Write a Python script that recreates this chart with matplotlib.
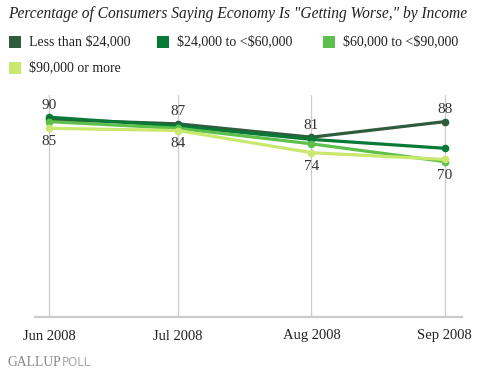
import matplotlib
matplotlib.use('Agg')
import matplotlib.pyplot as plt
from matplotlib.patches import Rectangle
from datetime import datetime, timedelta

plt.rcParams['text.parse_math'] = False

months = ['Jun 2008', 'Jul 2008', 'Aug 2008', 'Sep 2008']
dates = [datetime(2008, 6, 1), datetime(2008, 7, 1), datetime(2008, 8, 1), datetime(2008, 9, 1)]

less_24k = [89, 87, 81, 88]
from_24k_60k = [90, 86, 80, 76]
from_60k_90k = [88, 85, 78, 70]
over_90k = [85, 84, 74, 71]

series_names = ['Less than $24,000', '$24,000 to <$60,000', '$60,000 to <$90,000', '$90,000 or more']
colors = ['#2E5C3D', '#087A36', '#5DBF4C', '#C8E86E']

# labels shown on the chart (top and bottom value per month)
top_labels = [90, 87, 81, 88]
bottom_labels = [85, 84, 74, 70]

plt.rcParams['font.family'] = ['Liberation Serif', 'DejaVu Serif']

fig = plt.figure(figsize=(4.93, 3.79), dpi=100)
ax = fig.add_axes([35 / 493, 62 / 379, 427 / 493, 222 / 379])

all_series = [less_24k, from_24k_60k, from_60k_90k, over_90k]
for vals, c in zip(all_series, colors):
    ax.plot(dates, vals, color=c, lw=2.3, marker='o', markersize=4.5, solid_capstyle='round', zorder=3)

for d in dates:
    ax.axvline(d, color='#CCCCCC', lw=0.9, zorder=1)

for i, (d, t, b) in enumerate(zip(dates, top_labels, bottom_labels)):
    top_y = max(s[i] for s in all_series)
    bot_y = min(s[i] for s in all_series)
    ax.annotate(str(t), (d, top_y), xytext=(0, 4), textcoords='offset points',
                ha='center', va='bottom', fontsize=11, color='#333333')
    ax.annotate(str(b), (d, bot_y), xytext=(0, -5), textcoords='offset points',
                ha='center', va='top', fontsize=11, color='#333333')

ax.set_ylim(0, 100)
ax.set_xlim(dates[0] - timedelta(days=3.3), dates[-1] + timedelta(days=4))
ax.set_xticks(dates)
ax.set_xticklabels(months, fontsize=10.5, color='#222222')
ax.set_yticks([])
ax.tick_params(axis='x', length=0, pad=9)
for side in ['top', 'right', 'left']:
    ax.spines[side].set_visible(False)
ax.spines['bottom'].set_color('#CCCCCC')
ax.spines['bottom'].set_linewidth(1.6)

fig.text(8 / 493, 1 - 14 / 379, 'Percentage of Consumers Saying Economy Is "Getting Worse," by Income',
         fontsize=11.2, style='italic', color='#222222', va='center', ha='left')

legend_pos = [(9, 42), (157, 42), (323, 42), (9, 68)]
for (x, y), name, c in zip(legend_pos, series_names, colors):
    fig.patches.append(Rectangle((x / 493, 1 - (y + 6) / 379), 12 / 493, 12 / 379,
                                 transform=fig.transFigure, facecolor=c, edgecolor='none'))
    fig.text((x + 20) / 493, 1 - y / 379, name, fontsize=10, color='#222222', va='center', ha='left')

fig.text(8 / 493, 1 - 363 / 379, 'GALLUP', fontsize=9.8, color='#888888', va='center', ha='left')
fig.text(62 / 493, 1 - 363 / 379, 'POLL', fontsize=8.5, color='#AAAAAA', va='center', ha='left',
         family='DejaVu Sans')

fig.savefig('out.png', dpi=100)
